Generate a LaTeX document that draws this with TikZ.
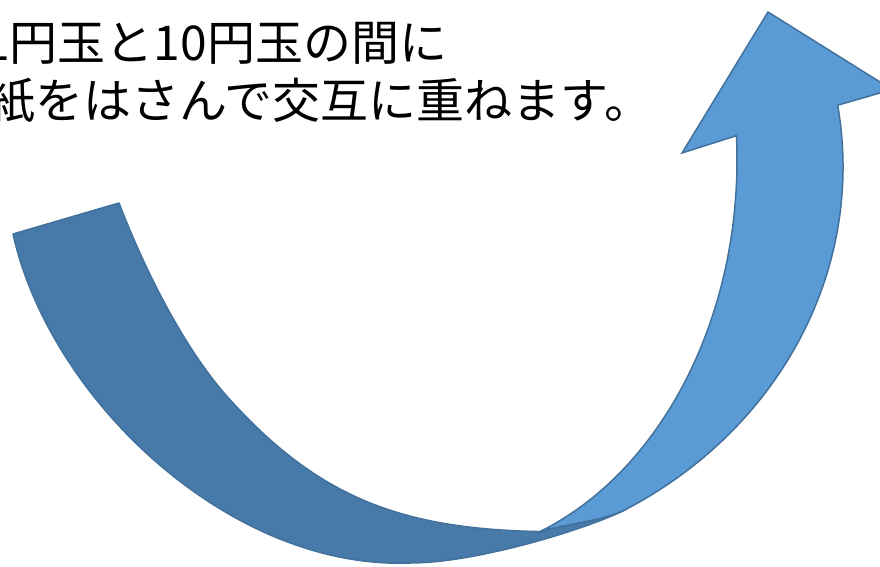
\documentclass[tikz,border=0pt]{standalone}
\usepackage{fontspec}
\newfontfamily\jpfont{Noto Sans CJK JP}
\definecolor{bandDark}{RGB}{71,122,168}
\definecolor{bandLight}{RGB}{91,155,213}
\definecolor{bandEdge}{RGB}{65,113,156}
\tikzset{
  backband/.style={fill=bandDark, draw=bandEdge, line width=1.5pt, line join=round},
  frontband/.style={fill=bandLight, draw=bandEdge, line width=1.5pt, line join=miter},
  caption/.style={anchor=base west, inner sep=0pt, font=\jpfont\fontsize{48}{56}\selectfont, text=black}
}
\begin{document}
\begin{tikzpicture}[x=1pt,y=-1pt]
\useasboundingbox (0,0) rectangle (880,567);
\clip (0,0) rectangle (880,567);
\fill[white] (0,0) rectangle (880,567);

% key points (outer ellipse: centre (410,167), radii 433/395; inner: centre (430,160), radii 307/398)
\coordinate (tailin) at (119,203);
\coordinate (tailout) at (13,234);
\coordinate (bottom) at (410,563);
\coordinate (Q) at ([shift={(410,167)}]60:433 and 395);
\coordinate (P) at ([shift={(430,160)}]69:307 and 398);
\coordinate (lshoulder) at ([shift={(430,160)}]-3.5:307 and 398);
\coordinate (rbarb) at (892,89.5);
\coordinate (tip) at (768,12);
\coordinate (lbarb) at (682,153);
\coordinate (darkmid) at (233,403);

% back (darker) band from tail to bottom
\path[backband] (tailin) -- (tailout)
  .. controls (50,400) and (230,570) .. (bottom)
  .. controls (478,563) and (591,527.7) .. (Q)
  .. controls (604.4,520.8) and (560,525) .. (P)
  .. controls (407,529) and (323,501) .. (darkmid)
  .. controls (185,352) and (144,268) .. (tailin)
  -- cycle;

% front (lighter) band with arrow head
\path[frontband] (P)
  .. controls (560,525) and (604.4,520.8) .. (Q)
  arc[start angle=60, end angle=-9, x radius=433, y radius=395]
  -- (rbarb) -- (tip) -- (lbarb) -- (lshoulder)
  arc[start angle=-3.5, end angle=69, x radius=307, y radius=398]
  -- cycle;

\node[caption] (line1) at (-17,61) {1円玉と10円玉の間に};
\node[caption] (line2) at (-13,118) {紙をはさんで交互に重ねます。};
\end{tikzpicture}
\end{document}
